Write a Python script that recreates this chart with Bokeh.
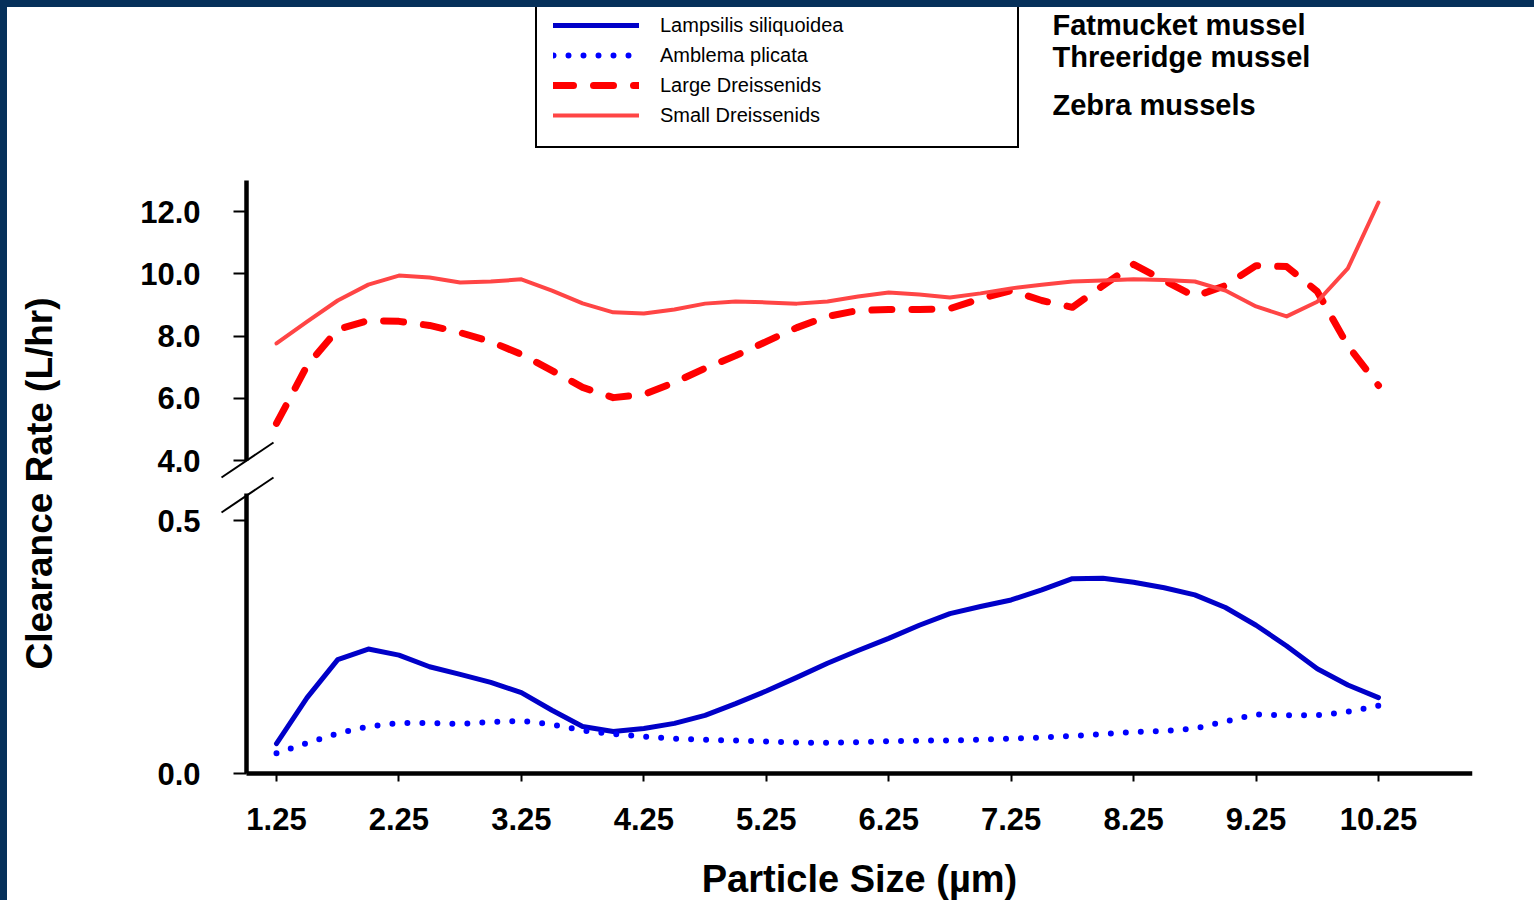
from bokeh.plotting import figure
from bokeh.models import (Range1d, FixedTicker, Legend, LegendItem, Label,
                          PolyAnnotation, Div, LinearAxis)
from bokeh.layouts import row, column
from bokeh.embed import file_html
from bokeh.resources import INLINE

# ---------------- data ----------------
particle_size = [1.25, 1.5, 1.75, 2.0, 2.25, 2.5, 2.75, 3.0, 3.25, 3.5, 3.75,
                 4.0, 4.25, 4.5, 4.75, 5.0, 5.25, 5.5, 5.75, 6.0, 6.25, 6.5,
                 6.75, 7.0, 7.25, 7.5, 7.75, 8.0, 8.25, 8.5, 8.75, 9.0, 9.25,
                 9.5, 9.75, 10.0, 10.25]

lampsilis_siliquoidea = [0.059, 0.150, 0.225, 0.246, 0.234, 0.211, 0.196, 0.180,
                         0.160, 0.125, 0.093, 0.083, 0.089, 0.099, 0.115, 0.138,
                         0.163, 0.190, 0.218, 0.243, 0.267, 0.293, 0.316, 0.330,
                         0.343, 0.363, 0.385, 0.386, 0.378, 0.367, 0.353, 0.328,
                         0.293, 0.252, 0.207, 0.175, 0.150]

amblema_plicata = [0.040, 0.060, 0.079, 0.093, 0.100, 0.100, 0.098, 0.102,
                   0.104, 0.097, 0.085, 0.078, 0.073, 0.069, 0.067, 0.065,
                   0.063, 0.061, 0.061, 0.062, 0.064, 0.065, 0.065, 0.067,
                   0.069, 0.071, 0.074, 0.078, 0.082, 0.084, 0.089, 0.103,
                   0.117, 0.115, 0.115, 0.122, 0.134]

large_dreissenids = [5.19, 7.05, 8.21, 8.50, 8.47, 8.34, 8.11, 7.82, 7.41,
                     6.89, 6.35, 6.02, 6.12, 6.51, 6.96, 7.37, 7.82, 8.27,
                     8.63, 8.82, 8.85, 8.85, 8.88, 9.20, 9.46, 9.14, 8.92,
                     9.62, 10.30, 9.78, 9.27, 9.62, 10.26, 10.23, 9.43, 7.69,
                     6.41]

small_dreissenids = [7.76, 8.46, 9.14, 9.65, 9.94, 9.88, 9.72, 9.75, 9.82,
                     9.46, 9.05, 8.76, 8.72, 8.85, 9.04, 9.11, 9.08, 9.04,
                     9.11, 9.27, 9.40, 9.33, 9.24, 9.37, 9.53, 9.65, 9.75,
                     9.78, 9.82, 9.80, 9.75, 9.46, 8.95, 8.63, 9.10, 10.17,
                     12.29]

x_ticks = [1.25, 2.25, 3.25, 4.25, 5.25, 6.25, 7.25, 8.25, 9.25, 10.25]
x_tick_labels = ["1.25", "2.25", "3.25", "4.25", "5.25", "6.25", "7.25",
                 "8.25", "9.25", "10.25"]
upper_ticks = [4.0, 6.0, 8.0, 10.0, 12.0]
upper_tick_labels = ["4.0", "6.0", "8.0", "10.0", "12.0"]
lower_ticks = [0.0, 0.5]
lower_tick_labels = ["0.0", "0.5"]

species_labels = ["Lampsilis siliquoidea", "Amblema plicata",
                  "Large Dreissenids", "Small Dreissenids"]
common_names = ["Fatmucket mussel", "Threeridge mussel", "Zebra mussels"]
x_title = "Particle Size (\u00b5m)"
y_title = "Clearance Rate (L/hr)"

# ---------------- geometry (page pixels) ----------------
FONT = "Liberation Sans"
NAVY = "#06305A"
PAGE_W, PAGE_H = 1534, 900
BAR = 7                       # width of the navy frame strips
FIG_W, FIG_H = PAGE_W - BAR, PAGE_H - BAR
FRAME_RIGHT_PX = 1472         # right end of the x axis
XAXIS_PX = 773                # x axis / zero line
AXIS_PX = 246                 # y axis position
X_PX_PER_UNIT = 122.44
X0_PX = 276                   # pixel of particle size 1.25
UPPER_PX_PER_UNIT = 31.125
UPPER4_PX = 460               # pixel of 4.0 on the upper scale
LOWER_PX_PER_UNIT = 506.0


def X(px):
    return particle_size[0] + (px - X0_PX) / X_PX_PER_UNIT


def U(py):
    return upper_ticks[0] + (UPPER4_PX - py) / UPPER_PX_PER_UNIT


def L(py):
    return (XAXIS_PX - py) / LOWER_PX_PER_UNIT


def style_axis(ax, ticks, labels, tick_out, standoff):
    ax.ticker = FixedTicker(ticks=ticks)
    ax.major_label_overrides = {t: l for t, l in zip(ticks, labels)}
    ax.axis_line_color = "black"
    ax.axis_line_width = 4.5
    ax.major_tick_line_color = "black"
    ax.major_tick_line_width = 2
    ax.major_tick_out = tick_out
    ax.major_tick_in = 0
    ax.minor_tick_line_color = None
    ax.major_label_text_font = FONT
    ax.major_label_text_font_style = "bold"
    ax.major_label_text_font_size = "31px"
    ax.major_label_text_color = "black"
    ax.major_label_standoff = standoff


p = figure(width=FIG_W, height=FIG_H,
           x_range=Range1d(X(BAR), X(FRAME_RIGHT_PX)),
           y_range=Range1d(U(PAGE_H), U(BAR)),
           x_axis_type=None, y_axis_type=None,
           output_backend="svg", toolbar_location=None,
           min_border_left=0, min_border_top=0, min_border_bottom=0,
           min_border_right=PAGE_W - FRAME_RIGHT_PX,
           outline_line_color=None, background_fill_color="white",
           border_fill_color="white")
p.extra_y_ranges = {"lower": Range1d(L(PAGE_H), L(BAR))}

# broken y axis: two axes pinned at the same x position
ax_upper = LinearAxis(fixed_location=X(AXIS_PX),
                      bounds=(upper_ticks[0], U(180)))
ax_lower = LinearAxis(y_range_name="lower", fixed_location=X(AXIS_PX),
                      bounds=(lower_ticks[0], L(493)))
style_axis(ax_upper, upper_ticks, upper_tick_labels, 13, 33)
style_axis(ax_lower, lower_ticks, lower_tick_labels, 13, 33)
p.add_layout(ax_upper, "left")
p.add_layout(ax_lower, "left")

# x axis pinned on the zero line of the lower scale
xax = LinearAxis(fixed_location=U(XAXIS_PX),
                 bounds=(X(AXIS_PX), X(FRAME_RIGHT_PX)))
style_axis(xax, x_ticks, x_tick_labels, 8, 26)
xax.axis_label = x_title
xax.axis_label_text_font = FONT
xax.axis_label_text_font_style = "bold"
xax.axis_label_text_font_size = "38px"
xax.axis_label_text_color = "black"
xax.axis_label_standoff = 25
p.add_layout(xax, "below")

# ---------------- series ----------------
r_large = p.line(particle_size, large_dreissenids, line_color="#FF0000",
                 line_width=7, line_dash="20 20", line_cap="round",
                 line_join="round")
r_small = p.line(particle_size, small_dreissenids, line_color="#FF4545",
                 line_width=4, line_cap="round", line_join="round")
r_lamp = p.line(particle_size, lampsilis_siliquoidea, y_range_name="lower",
                line_color="#0000C8", line_width=5, line_cap="round",
                line_join="round")
r_ambl = p.line(particle_size, amblema_plicata, y_range_name="lower",
                line_color="#0000FF", line_width=6, line_dash="0 15",
                line_cap="round")

legend = Legend(
    items=[LegendItem(label=species_labels[0], renderers=[r_lamp]),
           LegendItem(label=species_labels[1], renderers=[r_ambl]),
           LegendItem(label=species_labels[2], renderers=[r_large]),
           LegendItem(label=species_labels[3], renderers=[r_small])],
    location=(535 - BAR, PAGE_H - 148), orientation="vertical",
    margin=0, padding=16, spacing=0, glyph_width=86, glyph_height=30,
    label_height=30, label_width=341, label_standoff=21,
    border_line_color="black", border_line_width=2, border_line_alpha=1.0,
    background_fill_color="white", background_fill_alpha=1.0,
    label_text_font=FONT, label_text_font_size="20px",
    label_text_color="black")
p.add_layout(legend)

for name, py in zip(common_names, [24, 56, 104]):
    p.add_layout(Label(x=X(1052), y=U(py), text=name,
                       text_font=FONT, text_font_style="bold",
                       text_font_size="29px", text_color="black",
                       text_baseline="alphabetic", text_align="left"))

p.add_layout(Label(x=X(39), y=U(483), text=y_title, angle=90,
                   angle_units="deg", text_font=FONT, text_font_style="bold",
                   text_font_size="37px", text_color="black",
                   text_align="center", text_baseline="alphabetic"))

# axis-break marks
for (py0, py1) in [(477, 442), (512, 477)]:
    p.add_layout(PolyAnnotation(xs=[X(221), X(273)], ys=[U(py0), U(py1)],
                                fill_color=None, fill_alpha=0,
                                line_color="black", line_alpha=1.0,
                                line_width=2))

# ---------------- page frame ----------------
top_bar = Div(text="", width=PAGE_W, height=BAR, margin=0,
              styles={"background-color": NAVY})
left_bar = Div(text="", width=BAR, height=FIG_H, margin=0,
               styles={"background-color": NAVY})

layout = column(top_bar, row(left_bar, p))

with open("out.html", "w") as f:
    f.write(file_html(layout, INLINE))
